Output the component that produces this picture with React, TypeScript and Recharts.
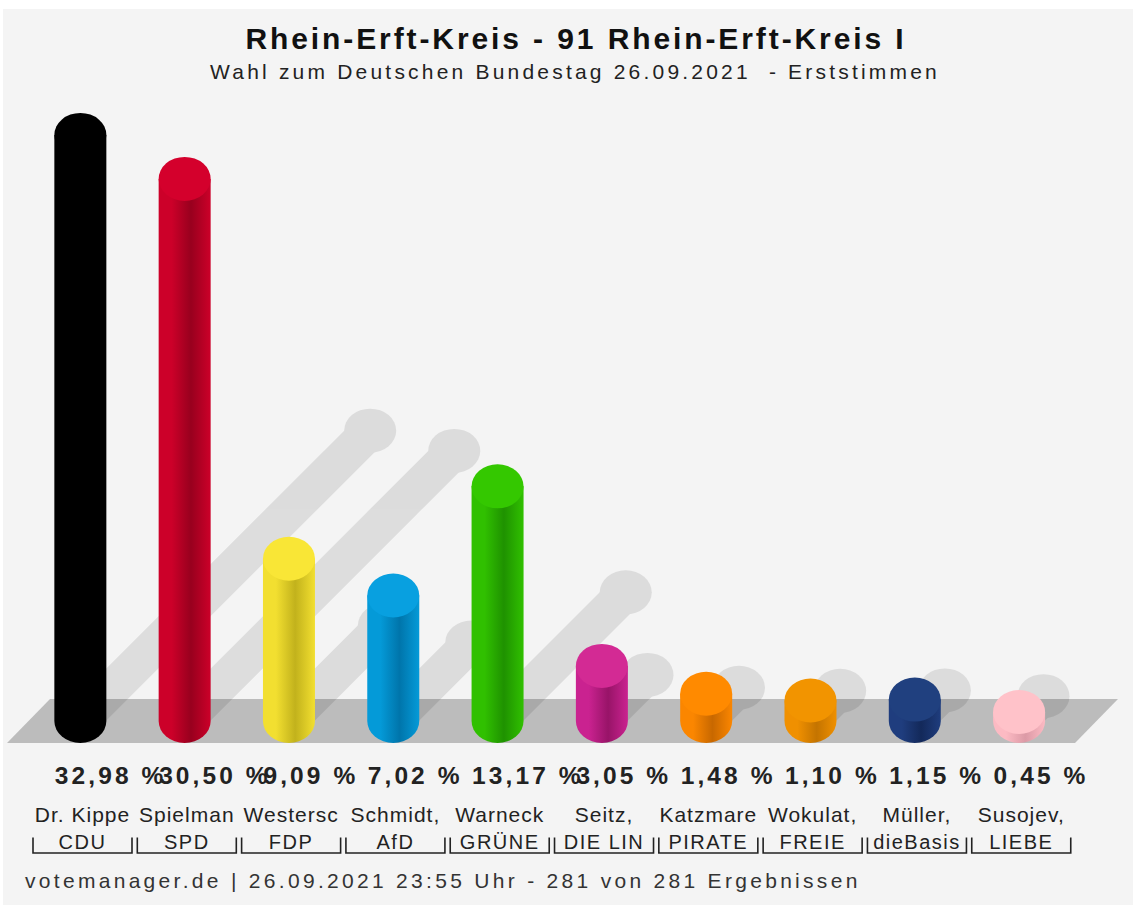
import React from 'react';
import { BarChart, Bar, XAxis, YAxis, LabelList } from 'recharts';

const candidates = ['Dr. Kippe', 'Spielman', 'Westersc', 'Schmidt,', 'Warneck', 'Seitz,', 'Katzmare', 'Wokulat,', 'Müller,', 'Susojev,'];
const parties = ['CDU', 'SPD', 'FDP', 'AfD', 'GRÜNE', 'DIE LIN', 'PIRATE', 'FREIE', 'dieBasis', 'LIEBE'];
const shares = [32.98, 30.5, 9.09, 7.02, 13.17, 3.05, 1.48, 1.1, 1.15, 0.45];
const capColors = ['#000000', '#d4002c', '#f9e636', '#08a0e0', '#34c800', '#d32a94', '#ff8a00', '#f29400', '#20407f', '#ffc2c9'];
const lightColors = ['#000000', '#cc0029', '#f2df30', '#049ad8', '#30c000', '#ca2290', '#fb8600', '#f09000', '#1f3d7e', '#fcbac3'];
const darkColors = ['#000000', '#98001e', '#c2b21c', '#0075ab', '#1f9200', '#981468', '#c86800', '#c47400', '#13295a', '#dc9aa6'];

const TITLE = 'Rhein-Erft-Kreis - 91 Rhein-Erft-Kreis I';
const SUBTITLE = 'Wahl zum Deutschen Bundestag 26.09.2021\u00a0\u00a0- Erststimmen';
const FOOTER = 'votemanager.de | 26.09.2021 23:55 Uhr - 281 von 281 Ergebnissen';

const data = parties.map((p, i) => ({ party: p, candidate: candidates[i], share: shares[i] }));

const FONT = "'Liberation Sans', Arial, Helvetica, sans-serif";
const RY = 22;
const EXT = 22.5;

const fmt = (v: number) => v.toFixed(2).replace('.', ',') + ' %';

const ShadowShape = (props: any) => {
  const { x, y, width, height, index } = props;
  const cx = x + width / 2;
  const base = y + height;
  const h = height + 2 * EXT;
  const d = 0.46 * h;
  const r = width / 2;
  return (
    <g>
      {index === 0 && (
        <polygon
          points={`7,${base + EXT} 50,${base - 21.5} 1118,${base - 21.5} 1075,${base + EXT}`}
          fill="#bcbcbc"
        />
      )}
      <g opacity={0.095}>
        <polygon points={`${cx - r},${base} ${cx + r},${base} ${cx + r + d},${base - d} ${cx - r + d},${base - d}`} fill="#000" />
        <ellipse cx={cx + d} cy={base - d} rx={r} ry={RY} fill="#000" />
      </g>
    </g>
  );
};

const CylinderShape = (props: any) => {
  const { x, y, width, height, index } = props;
  const cx = x + width / 2;
  const r = width / 2;
  const top = y - EXT;
  const bottom = y + height + EXT;
  const id = `cyl${index}`;
  return (
    <g>
      <defs>
        <linearGradient id={id} x1="0" y1="0" x2="1" y2="0">
          <stop offset="0%" stopColor={lightColors[index]} />
          <stop offset="25%" stopColor={lightColors[index]} />
          <stop offset="62%" stopColor={darkColors[index]} />
          <stop offset="100%" stopColor={lightColors[index]} />
        </linearGradient>
      </defs>
      <path
        d={`M${cx - r},${top + RY} L${cx - r},${bottom - RY} A${r},${RY} 0 0 0 ${cx + r},${bottom - RY} L${cx + r},${top + RY} Z`}
        fill={`url(#${id})`}
      />
      <ellipse cx={cx} cy={top + RY} rx={r} ry={RY} fill={capColors[index]} />
    </g>
  );
};

const ValueLabel = (props: any) => {
  const { x, y, width, height, value } = props;
  const cx = x + width / 2;
  return (
    <text x={cx - 25.5} y={y + height + 63.5} fontFamily={FONT} fontSize={24.5} fontWeight="bold" letterSpacing={3.1} fill="#222" textAnchor="start">
      {fmt(value)}
    </text>
  );
};

const PartyTick = (props: any) => {
  const { x, y, payload } = props;
  const i = payload.index;
  const cx = x + 2;
  const l = cx - 49.5;
  const rr = cx + 49.5;
  return (
    <g>
      <text x={cx} y={y + 101.5} textAnchor="middle" fontFamily={FONT} fontSize={21} letterSpacing={1} fill="#222">
        {candidates[i]}
      </text>
      <text x={cx} y={y + 128.5} textAnchor="middle" fontFamily={FONT} fontSize={20} letterSpacing={1.5} fill="#222">
        {payload.value}
      </text>
      <path d={`M${l},${y + 117} L${l},${y + 132.5} L${rr},${y + 132.5} L${rr},${y + 117}`} stroke="#222" strokeWidth={1.6} fill="none" />
    </g>
  );
};

export default function App() {
  return (
    <div style={{ position: 'absolute', left: 0, top: 0, width: 1133, height: 905, background: '#ffffff', overflow: 'hidden' }}>
      <div style={{ position: 'absolute', left: 3, top: 9, width: 1130, height: 896, background: '#f4f4f4' }} />
      <div style={{ position: 'absolute', left: 0, top: 0 }}>
        <BarChart
          width={1133}
          height={905}
          data={data}
          margin={{ top: 99.6, right: 61.6, bottom: 0.5, left: 28.35 }}
        >
          <XAxis xAxisId="s" dataKey="party" hide />
          <XAxis
            dataKey="party"
            height={184}
            axisLine={false}
            tickLine={false}
            tickSize={0}
            tickMargin={0}
            interval={0}
            tick={<PartyTick />}
          />
          <YAxis hide domain={[0, 35]} />
          <Bar xAxisId="s" dataKey="share" barSize={52} shape={<ShadowShape />} isAnimationActive={false} />
          <Bar dataKey="share" barSize={52} shape={<CylinderShape />} isAnimationActive={false}>
            <LabelList dataKey="share" content={<ValueLabel />} />
          </Bar>
        </BarChart>
      </div>
      <svg style={{ position: 'absolute', left: 0, top: 0 }} width={1133} height={905}>
        <text x={576} y={49} textAnchor="middle" fontFamily={FONT} fontSize={30} fontWeight="bold" letterSpacing={2.9} fill="#111">
          {TITLE}
        </text>
        <text x={575} y={79} textAnchor="middle" fontFamily={FONT} fontSize={21} letterSpacing={3.2} fill="#222">
          {SUBTITLE}
        </text>
        <text x={25} y={888} fontFamily={FONT} fontSize={21} letterSpacing={3.3} fill="#333">
          {FOOTER}
        </text>
      </svg>
    </div>
  );
}
